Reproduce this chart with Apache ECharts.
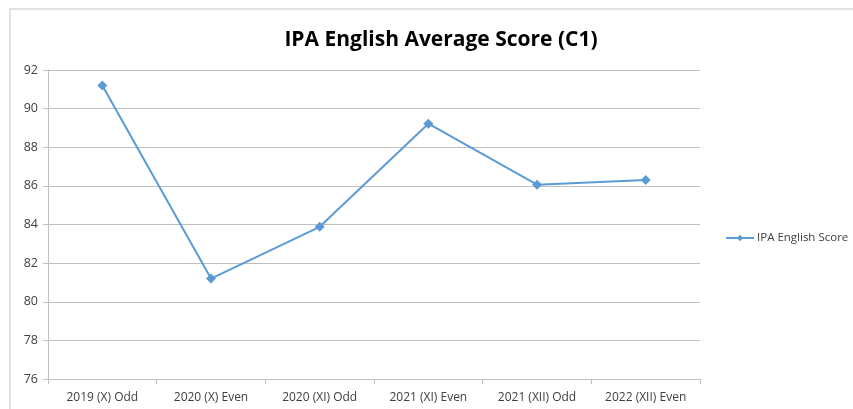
<!DOCTYPE html>
<html>
<head>
<meta charset="utf-8">
<script src="https://cdn.jsdelivr.net/npm/echarts@6/dist/echarts.min.js"></script>
<style>
  html, body { margin: 0; padding: 0; background: #fff; }
  #myChart { width: 853px; height: 409px; }
</style>
</head>
<body>
<div id="myChart"></div>
<script type="text/javascript">
var categories = ['2019 (X) Odd', '2020 (X) Even', '2020 (XI) Odd', '2021 (XI) Even', '2021 (XII) Odd', '2022 (XII) Even']
var scores = [91.2, 81.2, 83.88, 89.22, 86.06, 86.3]
var seriesName = 'IPA English Score'
var titleText = 'IPA English Average Score (C1)'

let myChart = echarts.init(document.getElementById('myChart'))
myChart.setOption({
    animation: false,
    graphic: [{
        type: 'rect',
        shape: { x: 10, y: 9, width: 860, height: 420 },
        style: { fill: 'none', stroke: '#d9d9d9', lineWidth: 1.5 },
        silent: true
    }],
    title: {
        text: titleText,
        left: 436,
        textAlign: 'center',
        top: 25,
        textStyle: {
            fontFamily: 'Open Sans',
            fontWeight: 'bold',
            fontSize: 21,
            color: '#000'
        }
    },
    legend: {
        data: [seriesName],
        orient: 'vertical',
        left: 720,
        top: 227,
        itemWidth: 28,
        itemHeight: 8,
        itemGap: 4,
        textStyle: { fontFamily: 'Open Sans', fontSize: 11.5, color: '#404040', padding: [0, 0, 0, -2] }
    },
    grid: {
        left: 48,
        right: 153,
        top: 70,
        bottom: 30,
        containLabel: false
    },
    xAxis: {
        type: 'category',
        data: categories,
        boundaryGap: true,
        axisLine: { lineStyle: { color: '#bfbfbf', width: 1 } },
        axisTick: { show: true, length: 5, lineStyle: { color: '#bfbfbf' } },
        axisLabel: { fontFamily: 'Open Sans', fontSize: 12, color: '#404040', margin: 13 }
    },
    yAxis: {
        type: 'value',
        min: 76,
        max: 92,
        interval: 2,
        axisLine: { show: true, lineStyle: { color: '#bfbfbf', width: 1 } },
        axisTick: { show: true, length: 5, lineStyle: { color: '#bfbfbf' } },
        axisLabel: { fontFamily: 'Open Sans', fontSize: 12.5, color: '#404040', margin: 10 },
        splitLine: { lineStyle: { color: '#bfbfbf', width: 1 } }
    },
    series: [{
        name: seriesName,
        type: 'line',
        data: scores,
        symbol: 'diamond',
        symbolSize: 10,
        itemStyle: { color: '#5b9bd5' },
        lineStyle: { color: '#5b9bd5', width: 2 }
    }]
})
</script>
</body>
</html>
